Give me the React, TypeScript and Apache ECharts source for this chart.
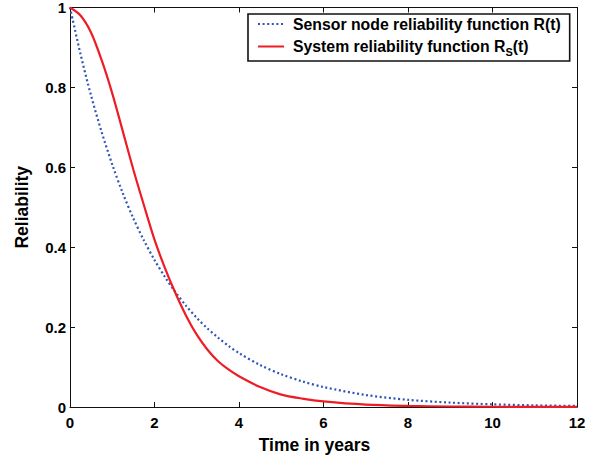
import React, { useEffect, useRef } from 'react';
import * as echarts from 'echarts';

const timeYears = [0, 0.25, 0.5, 0.75, 1, 1.25, 1.5, 1.75, 2, 2.25, 2.5, 2.75, 3, 3.25, 3.5, 3.75, 4, 4.5, 5, 5.5, 6, 7, 8, 9, 10, 11, 12];
const sensorReliability = [1, 0.883, 0.779, 0.688, 0.607, 0.535, 0.472, 0.417, 0.368, 0.325, 0.287, 0.253, 0.223, 0.197, 0.174, 0.153, 0.135, 0.105, 0.082, 0.064, 0.05, 0.03, 0.018, 0.011, 0.0067, 0.0041, 0.0025];
const systemReliability = [1, 0.98, 0.937, 0.868, 0.785, 0.69, 0.594, 0.505, 0.419, 0.347, 0.284, 0.228, 0.181, 0.144, 0.115, 0.094, 0.077, 0.05, 0.031, 0.021, 0.014, 0.006, 0.0028, 0.0013, 0.0006, 0.0003, 0.0001];
const seriesNames = ['Sensor node reliability function R(t)', 'System reliability function R_S(t)'];
const xTitle = 'Time in years';
const yTitle = 'Reliability';

const FONT = "'Liberation Sans', Arial, Helvetica, sans-serif";

export default function App() {
  const ref = useRef<HTMLDivElement>(null);
  useEffect(() => {
    if (!ref.current) return;
    const chart = echarts.init(ref.current, undefined, { renderer: 'svg' });
    const tickLabel = { fontFamily: FONT, fontWeight: 'bold' as const, fontSize: 15, color: '#000' };
    const axisLine = { show: true, onZero: false, lineStyle: { color: '#111', width: 1 } };
    const axisTick = { show: true, inside: true, length: 5, lineStyle: { color: '#111', width: 1 } };
    chart.setOption({
      animation: false,
      backgroundColor: '#fff',
      grid: { left: 70, right: 23, top: 7, bottom: 54, containLabel: false },
      legend: {
        orient: 'vertical',
        left: 248,
        top: 14,
        padding: [2, 9, 4, 9],
        itemWidth: 26,
        itemHeight: 14,
        itemGap: 4,
        borderColor: '#111',
        borderWidth: 1.6,
        backgroundColor: '#fff',
        itemStyle: { opacity: 0 },
        data: seriesNames,
        formatter: (name: string) => {
          if (name.indexOf('_S') >= 0) {
            const parts = name.split('_S');
            return '{a|' + parts[0] + '}{s|S}{b|' + parts[1] + '}';
          }
          return '{a|' + name + '}';
        },
        textStyle: {
          fontFamily: FONT,
          fontWeight: 'bold',
          fontSize: 15.8,
          color: '#000',
          rich: {
            a: { fontFamily: FONT, fontWeight: 'bold', fontSize: 15.8, color: '#000', lineHeight: 16, padding: [0, 0, 0, 4] },
            b: { fontFamily: FONT, fontWeight: 'bold', fontSize: 15.8, color: '#000', lineHeight: 16 },
            s: { fontFamily: FONT, fontWeight: 'bold', fontSize: 11, color: '#000', lineHeight: 6, padding: [10, 0, 0, 0] },
          },
        },
      },
      xAxis: [
        {
          type: 'value',
          min: 0,
          max: 12,
          interval: 2,
          position: 'bottom',
          name: xTitle,
          nameLocation: 'middle',
          nameGap: 29,
          nameTextStyle: { fontFamily: FONT, fontWeight: 'bold', fontSize: 17.5, color: '#000', padding: [0, 18, 0, 0] },
          axisLine,
          axisTick,
          axisLabel: { ...tickLabel, margin: 8 },
          splitLine: { show: false },
        },
        {
          type: 'value',
          min: 0,
          max: 12,
          interval: 2,
          position: 'top',
          axisLine,
          axisTick,
          axisLabel: { show: false },
          splitLine: { show: false },
        },
      ],
      yAxis: [
        {
          type: 'value',
          min: 0,
          max: 1,
          interval: 0.2,
          position: 'left',
          name: yTitle,
          nameLocation: 'middle',
          nameGap: 39,
          nameTextStyle: { fontFamily: FONT, fontWeight: 'bold', fontSize: 17.5, color: '#000' },
          axisLine,
          axisTick,
          axisLabel: { ...tickLabel, margin: 4 },
          splitLine: { show: false },
        },
        {
          type: 'value',
          min: 0,
          max: 1,
          interval: 0.2,
          position: 'right',
          axisLine,
          axisTick,
          axisLabel: { show: false },
          splitLine: { show: false },
        },
      ],
      series: [
        {
          name: seriesNames[0],
          type: 'line',
          xAxisIndex: 0,
          yAxisIndex: 0,
          data: timeYears.map((t, i) => [t, sensorReliability[i]]),
          symbol: 'none',
          smooth: 0.3,
          color: '#2f55b8',
          lineStyle: { color: '#2f55b8', width: 2.2, type: [2, 2.6], cap: 'butt' },
          z: 2,
        },
        {
          name: seriesNames[1],
          type: 'line',
          xAxisIndex: 0,
          yAxisIndex: 0,
          data: timeYears.map((t, i) => [t, systemReliability[i]]),
          symbol: 'none',
          smooth: 0.3,
          color: '#ee1c24',
          lineStyle: { color: '#ee1c24', width: 2.2, type: 'solid' },
          z: 3,
        },
      ],
    });
    return () => chart.dispose();
  }, []);
  return <div ref={ref} style={{ position: 'fixed', left: 0, top: 0, width: 600, height: 461 }} />;
}
